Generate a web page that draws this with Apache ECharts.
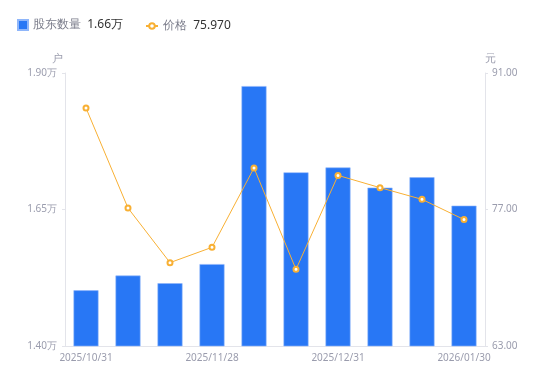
<!DOCTYPE html>
<html><head><meta charset="utf-8">
<script src="https://cdn.jsdelivr.net/npm/echarts@6/dist/echarts.min.js"></script>
<style>html,body{margin:0;padding:0;background:#fff}#c{width:550px;height:381px}</style>
</head><body><div id="c"></div>
<script>
const categories = ['2025/10/31','2025/11/10','2025/11/20','2025/11/28','2025/12/10','2025/12/19','2025/12/31','2026/01/09','2026/01/20','2026/01/30'];
const holders = [1.502, 1.529, 1.515, 1.550, 1.876, 1.718, 1.727, 1.690, 1.709, 1.657];
const prices = [87.41, 77.15, 71.55, 73.12, 81.26, 70.86, 80.50, 79.24, 78.04, 75.97];
const leftTicks = [1.40, 1.90];
const rightTicks = [63, 91];

const chart = echarts.init(document.getElementById('c'));
const font = 'Noto Sans, sans-serif';
const legendText = {rich: {a: {color: '#7a7c8a', fontSize: 12}, b: {color: '#333', fontSize: 12}}};
const fmt = function (n) {
  return n === '股东数量'
    ? '{a|' + n + '}  {b|' + holders[holders.length - 1].toFixed(2) + '万}'
    : '{a|' + n + '}  {b|' + prices[prices.length - 1].toFixed(3) + '}';
};
chart.setOption({
  animation: false,
  textStyle: {fontFamily: font},
  legend: [{
    left: 12, top: 14, itemWidth: 10, itemHeight: 10, padding: [5, 5],
    data: [{name: '股东数量', icon: 'rect'}],
    formatter: fmt, textStyle: legendText
  }, {
    left: 140, top: 14, itemWidth: 12, itemHeight: 7, padding: [6, 5],
    data: [{name: '价格'}],
    formatter: fmt, textStyle: legendText
  }],
  grid: {left: 65, right: 65, top: 73, bottom: 35},
  xAxis: {
    type: 'category', data: categories,
    axisLine: {lineStyle: {color: '#e3e4ea'}},
    axisTick: {show: false},
    axisLabel: {interval: 2, color: '#9a9cad', fontSize: 10, margin: 7}
  },
  yAxis: [{
    type: 'value', min: leftTicks[0], max: leftTicks[1], interval: 0.25,
    name: '户', nameTextStyle: {color: '#9a9cad', fontSize: 11, padding: [0, 0, 0, -15]},
    nameGap: 9,
    axisLine: {show: true, lineStyle: {color: '#e3e4ea'}},
    axisTick: {show: true, length: 3, lineStyle: {color: '#e3e4ea'}},
    splitLine: {show: false},
    axisLabel: {color: '#9a9cad', fontSize: 10, margin: 8, formatter: v => v.toFixed(2) + '万'}
  }, {
    type: 'value', min: rightTicks[0], max: rightTicks[1], interval: 14,
    name: '元', nameTextStyle: {color: '#9a9cad', fontSize: 11, padding: [0, -10, 0, 0]},
    nameGap: 9,
    axisLine: {show: true, lineStyle: {color: '#e3e4ea'}},
    axisTick: {show: true, length: 3, lineStyle: {color: '#e3e4ea'}},
    splitLine: {show: false},
    axisLabel: {color: '#9a9cad', fontSize: 10, margin: 7, formatter: v => v.toFixed(2)}
  }],
  series: [{
    name: '股东数量', type: 'bar', data: holders, barWidth: 25,
    itemStyle: {color: '#2877f5', borderColor: '#8fb6fa', borderWidth: 0.6}
  }, {
    name: '价格', type: 'line', yAxisIndex: 1, data: prices,
    symbol: 'emptyCircle', symbolSize: 5,
    lineStyle: {color: '#f8b034', width: 1},
    itemStyle: {color: '#f8b034', borderWidth: 2}
  }]
});
</script></body></html>
